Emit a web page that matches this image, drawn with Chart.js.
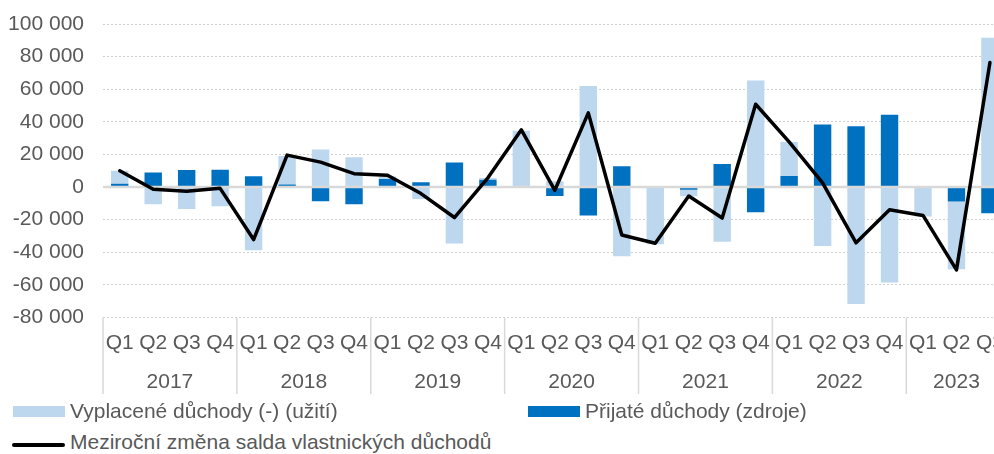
<!DOCTYPE html>
<html>
<head>
<meta charset="utf-8">
<script src="https://cdn.jsdelivr.net/npm/chart.js@4/dist/chart.umd.min.js"></script>
<style>
    html, body { margin: 0; padding: 0; background: #fff; overflow: hidden; width: 994px; height: 454px; }
    #wrap { position: relative; width: 1017px; height: 400px; }
    .lg { position: absolute; font-family: 'Liberation Sans', Arial, sans-serif; font-size: 21px; line-height: 24px; color: #595959; white-space: nowrap; }
    .sw { position: absolute; }
</style>
</head>
<body>
<div id="wrap"><canvas id="chart" width="1017" height="400"></canvas></div>

<div class="sw" style="left:13px; top:406px; width:52px; height:11px; background:#BDD7EE;"></div>
<div class="lg" style="left:70px; top:399px;">Vyplacené důchody (-) (užití)</div>
<div class="sw" style="left:528px; top:406px; width:52px; height:11px; background:#0070C0;"></div>
<div class="lg" style="left:585px; top:399px;">Přijaté důchody (zdroje)</div>
<div class="sw" style="left:12px; top:443px; width:53px; height:4px; background:#000; border-radius:2px;"></div>
<div class="lg" style="left:70px; top:430px;">Meziroční změna salda vlastnických důchodů</div>

<script>
/* ─── Data ───────────────────────────────────────────── */

const years = ['2017', '2018', '2019', '2020', '2021', '2022', '2023'];
const quarters = [
    'Q1', 'Q2', 'Q3', 'Q4', 'Q1', 'Q2', 'Q3', 'Q4', 'Q1', 'Q2', 'Q3', 'Q4',
    'Q1', 'Q2', 'Q3', 'Q4', 'Q1', 'Q2', 'Q3', 'Q4', 'Q1', 'Q2', 'Q3', 'Q4',
    'Q1', 'Q2', 'Q3'
];

// Přijaté důchody (zdroje) – tmavě modré
const received = [
    2000, 9000, 10400, 10600, 6700, 1600, -8700, -10600,
    4900, 2900, 15100, 4500, 0, -5500, -17500, 12700,
    0, -1600, 14100, -15500, 6800, 38300, 37300, 44300,
    0, -8800, -16000
];

// Vyplacené důchody (-) (užití) – světle modré
const paidOut = [
    8000, -10500, -13400, -11800, -38700, 17400, 23000, 18300,
    1500, -7300, -34600, 1000, 34500, 3500, 62000, -42400,
    -35100, -4100, -33500, 65300, 20900, -36100, -71700, -58600,
    -18000, -41600, 91600
];

// Meziroční změna salda vlastnických důchodů
const netChange = [
    10000, -1400, -2600, -800, -32200, 19600, 15300, 8200,
    7200, -4000, -18700, 5700, 35100, -2000, 45500, -29400,
    -34500, -5500, -19000, 50800, 27700, 2500, -34200, -13900,
    -17400, -50800, 76400
];

const yMin = -80000;
const yMax = 100000;
const yStep = 20000;

/* ─── Helpers ────────────────────────────────────────── */

const FONT = "'Liberation Sans', Arial, sans-serif";
const TEXT = '#595959';
const GRID = '#D9D9D9';

const fmt = v => String(v).replace(/\B(?=(\d{3})+(?!\d))/g, ' ');

// year labels + separators under the quarter labels, zero line under the net line
const axisExtras = {
    id: 'axisExtras',
    beforeDatasetDraw(chart, args) {
        if (args.meta.type !== 'line') return;
        const { ctx, chartArea, scales: { y } } = chart;
        const y0 = y.getPixelForValue(0);
        ctx.save();
        ctx.strokeStyle = GRID;
        ctx.lineWidth = 2.5;
        ctx.beginPath();
        ctx.moveTo(chartArea.left, y0);
        ctx.lineTo(chartArea.right, y0);
        ctx.stroke();
        ctx.restore();
    },
    afterDraw(chart) {
        const { ctx, chartArea, scales: { x } } = chart;
        const half = (x.getPixelForValue(1) - x.getPixelForValue(0)) / 2;
        ctx.save();
        ctx.strokeStyle = GRID;
        ctx.lineWidth = 1.5;
        ctx.fillStyle = TEXT;
        ctx.font = '21px ' + FONT;
        ctx.textAlign = 'center';
        ctx.textBaseline = 'middle';
        years.forEach((yr, i) => {
            const first = i * 4;
            const last = Math.min(first + 3, quarters.length - 1);
            const left = x.getPixelForValue(first) - half;
            const right = x.getPixelForValue(last) + half;
            ctx.beginPath();
            ctx.moveTo(left, chartArea.bottom);
            ctx.lineTo(left, 394);
            ctx.stroke();
            ctx.fillText(yr, (left + right) / 2, 382);
        });
        ctx.restore();
    }
};

/* ─── Chart ──────────────────────────────────────────── */

new Chart(document.getElementById('chart'), {
    type: 'bar',
    data: {
        labels: quarters,
        datasets: [
            {
                type: 'line',
                label: 'Meziroční změna salda vlastnických důchodů',
                data: netChange,
                stack: 'net',
                order: 0,
                borderColor: '#000000',
                borderWidth: 3.5,
                borderJoinStyle: 'round',
                borderCapStyle: 'round',
                pointRadius: 0,
                tension: 0,
                fill: false
            },
            {
                label: 'Přijaté důchody (zdroje)',
                data: received,
                stack: 'bars',
                order: 1,
                backgroundColor: '#0070C0',
                barPercentage: 0.52,
                categoryPercentage: 1
            },
            {
                label: 'Vyplacené důchody (-) (užití)',
                data: paidOut,
                stack: 'bars',
                order: 1,
                backgroundColor: '#BDD7EE',
                barPercentage: 0.52,
                categoryPercentage: 1
            }
        ]
    },
    options: {
        responsive: false,
        animation: false,
        layout: { padding: { top: 24, right: 2.5, left: 0, bottom: 0 } },
        plugins: {
            legend: { display: false },
            tooltip: { enabled: false }
        },
        scales: {
            x: {
                stacked: true,
                grid: { display: false, drawTicks: false },
                border: { display: false },
                ticks: {
                    color: TEXT,
                    font: { family: FONT, size: 21 },
                    padding: 13,
                    autoSkip: false,
                    maxRotation: 0
                },
                afterFit(scale) { scale.height = 82.5; }
            },
            y: {
                stacked: true,
                min: yMin,
                max: yMax,
                grid: {
                    drawTicks: false,
                    color: c => (c.tick && c.tick.value === 0 ? 'rgba(0,0,0,0)' : '#CFCFCF'),
                    lineWidth: 1
                },
                border: { display: false, dash: [2, 2] },
                ticks: {
                    stepSize: yStep,
                    color: TEXT,
                    font: { family: FONT, size: 21 },
                    padding: 19,
                    callback: v => fmt(v)
                },
                afterFit(scale) {
                    scale.width = 103;
                    scale.paddingTop = 0;
                    scale.paddingBottom = 0;
                }
            }
        }
    },
    plugins: [axisExtras]
});
</script>
</body>
</html>
